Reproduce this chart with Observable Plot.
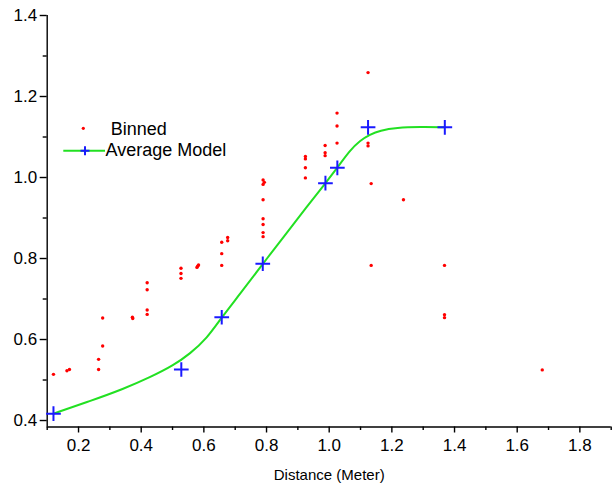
<!DOCTYPE html>
<html>
<head>
<meta charset="utf-8">
<script src="https://cdn.jsdelivr.net/npm/d3@7"></script>
<script src="https://cdn.jsdelivr.net/npm/@observablehq/plot@0.6"></script>
<style>
  html, body { margin: 0; padding: 0; background: #fff; }
  #wrap { position: relative; width: 614px; height: 485px; font-family: "Liberation Sans", Arial, sans-serif; }
  #legend { position: absolute; left: 0; top: 0; }
</style>
</head>
<body>
<div id="wrap"></div>
<script>
// Binned measurements (red dots)
const binnedX = [0.120, 0.163, 0.171, 0.264, 0.264, 0.277, 0.277, 0.372, 0.373, 0.419, 0.419, 0.419, 0.419,
  0.527, 0.527, 0.527, 0.578, 0.583, 0.580, 0.657, 0.657, 0.657, 0.676, 0.676,
  0.789, 0.793, 0.789, 0.789, 0.789, 0.789, 0.789, 0.789,
  0.924, 0.924, 0.924, 0.924, 0.987, 0.987, 0.987, 1.025, 1.025, 1.025,
  1.124, 1.124, 1.124, 1.134, 1.134, 1.237, 1.368, 1.368, 1.368, 1.680];
const binnedY = [0.514, 0.523, 0.526, 0.551, 0.526, 0.584, 0.653, 0.655, 0.652, 0.662, 0.673, 0.723, 0.740,
  0.776, 0.763, 0.751, 0.778, 0.784, 0.781, 0.840, 0.812, 0.783, 0.852, 0.844,
  0.994, 0.988, 0.983, 0.945, 0.898, 0.884, 0.864, 0.854,
  1.052, 1.046, 1.024, 0.999, 1.079, 1.061, 1.054, 1.159, 1.127, 1.085,
  1.259, 1.085, 1.078, 0.985, 0.783, 0.945, 0.783, 0.661, 0.654, 0.525];

// Average model points (blue crosses)
const modelX = [0.120, 0.528, 0.657, 0.788, 0.988, 1.026, 1.124, 1.369];
const modelY = [0.417, 0.526, 0.655, 0.787, 0.986, 1.024, 1.124, 1.124];

// Fitted curve (green line)
const fitX = [0.120, 0.237, 0.344, 0.429, 0.503, 0.556, 0.609, 0.657, 0.716, 0.788, 0.944, 0.988, 1.026, 1.066, 1.098, 1.130, 1.162, 1.215, 1.290, 1.369];
const fitY = [0.417, 0.448, 0.478, 0.507, 0.536, 0.565, 0.602, 0.655, 0.713, 0.787, 0.943, 0.986, 1.024, 1.067, 1.091, 1.106, 1.116, 1.123, 1.125, 1.124];

// Axis ticks
const xMajor = [0.2, 0.4, 0.6, 0.8, 1.0, 1.2, 1.4, 1.6, 1.8];
const xMinor = [0.1, 0.3, 0.5, 0.7, 0.9, 1.1, 1.3, 1.5, 1.7, 1.9];
const yMajor = [0.4, 0.6, 0.8, 1.0, 1.2, 1.4];
const yMinor = [0.5, 0.7, 0.9, 1.1, 1.3];

const xTitle = "Distance (Meter)";
const legendLabels = ["Binned", "Average Model"];

const binned = binnedX.map((x, i) => ({x, y: binnedY[i]}));
const model = modelX.map((x, i) => ({x, y: modelY[i]}));
const fit = fitX.map((x, i) => ({x, y: fitY[i]}));

const fmt = d3.format(".1f");
const chart = Plot.plot({
  width: 614,
  height: 485,
  marginLeft: 46.7,
  marginRight: 3.3,
  marginTop: 15,
  marginBottom: 58.5,
  x: {domain: [0.1, 1.9]},
  y: {domain: [0.384, 1.4]},
  style: {fontFamily: "'Liberation Sans', Arial, sans-serif", fontSize: "17px", color: "#000", background: "#fff"},
  marks: [
    Plot.axisX({ticks: xMajor, tickSize: 6, tickPadding: 6, tickFormat: fmt, label: null, fontSize: 17, strokeWidth: 1.4}),
    Plot.axisX({ticks: xMinor, tickSize: 3.5, tickFormat: () => "", label: null, strokeWidth: 1.4}),
    Plot.axisY({ticks: yMajor, tickSize: 7, tickPadding: 3, tickFormat: fmt, label: null, fontSize: 17, strokeWidth: 1.4}),
    Plot.axisY({ticks: yMinor, tickSize: 4, tickFormat: () => "", label: null, strokeWidth: 1.4}),
    Plot.ruleX([0.1], {stroke: "#000", strokeWidth: 1.4}),
    Plot.ruleY([0.384], {stroke: "#000", strokeWidth: 1.4}),
    Plot.text([xTitle], {frameAnchor: "bottom", dy: 48, lineAnchor: "middle", fontSize: 15}),
    Plot.line(fit, {x: "x", y: "y", stroke: "#22e022", strokeWidth: 2, curve: "basis"}),
    Plot.dot(binned, {x: "x", y: "y", r: 1.7, fill: "#ff0000", stroke: null}),
    Plot.dot(model, {x: "x", y: "y", symbol: "plus", r: 4.8, stroke: "#1a1aff", strokeWidth: 2})
  ]
});
const wrap = document.getElementById("wrap");
wrap.appendChild(chart);

// Legend overlay
const leg = d3.select(wrap).append("svg")
  .attr("id", "legend").attr("width", 260).attr("height", 180)
  .style("font-family", "'Liberation Sans', Arial, sans-serif");
leg.append("circle").attr("cx", 83.3).attr("cy", 128.3).attr("r", 1.6).attr("fill", "#ff0000");
leg.append("text").attr("x", 110.8).attr("y", 135).attr("font-size", 18).text(legendLabels[0]);
leg.append("line").attr("x1", 63.3).attr("x2", 105).attr("y1", 150.7).attr("y2", 150.7)
  .attr("stroke", "#22e022").attr("stroke-width", 2);
leg.append("path").attr("d", "M80.5,150.7H89.5M85,146.2V155.2").attr("stroke", "#1a1aff").attr("stroke-width", 2).attr("fill", "none");
leg.append("text").attr("x", 105.5).attr("y", 155.8).attr("font-size", 18).text(legendLabels[1]);
</script>
</body>
</html>
